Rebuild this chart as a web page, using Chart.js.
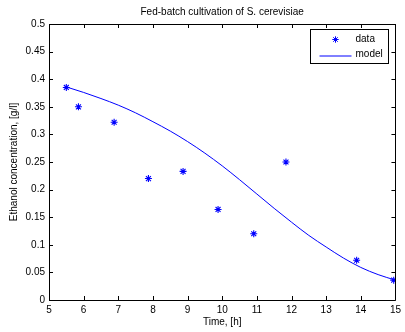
<!DOCTYPE html>
<html><head><meta charset="utf-8">
<script src="https://cdn.jsdelivr.net/npm/chart.js@4.4.1/dist/chart.umd.min.js"></script>
<style>html,body{margin:0;padding:0;background:#fff}canvas{display:block}</style>
</head><body>
<canvas id="c" width="405" height="332"></canvas>
<script>
const titleText = "Fed-batch cultivation of S. cerevisiae";
const xLabel = "Time, [h]";
const yLabel = "Ethanol concentration, [g/l]";

const dataTime = [5.5, 5.85, 6.88, 7.87, 8.87, 9.88, 10.91, 11.84, 13.88, 14.95];
const dataConc = [0.385, 0.350, 0.322, 0.220, 0.233, 0.164, 0.120, 0.250, 0.072, 0.036];

const modelTime = [5.5, 6.0, 6.5, 7.0, 7.5, 8.0, 8.5, 9.0, 9.5, 10.0, 10.5, 11.0, 11.5, 12.0, 12.5, 13.0, 13.5, 14.0, 14.5, 15.0];
const modelConc = [0.386, 0.376, 0.365, 0.353, 0.339, 0.323, 0.306, 0.287, 0.266, 0.243, 0.218, 0.192, 0.166, 0.141, 0.117, 0.096, 0.076, 0.059, 0.046, 0.036];

const xTicks = [5, 6, 7, 8, 9, 10, 11, 12, 13, 14, 15];
const yTicks = [0, 0.05, 0.1, 0.15, 0.2, 0.25, 0.3, 0.35, 0.4, 0.45, 0.5];

const BLUE = '#0000ff';
const FONT = 'Liberation Sans, Arial, Helvetica, sans-serif';

const boxPlugin = {
  id: 'matlabBox',
  afterDraw(chart) {
    const ctx = chart.ctx;
    const a = chart.chartArea;
    const xs = chart.scales.x, ys = chart.scales.y;
    ctx.save();
    ctx.strokeStyle = '#000';
    ctx.lineWidth = 1;
    ctx.beginPath();
    ctx.rect(Math.round(a.left) + 0.5, Math.round(a.top) + 0.5, Math.round(a.right - a.left), Math.round(a.bottom - a.top));
    const tl = 4;
    xTicks.forEach(v => {
      const p = Math.round(xs.getPixelForValue(v)) + 0.5;
      ctx.moveTo(p, a.bottom); ctx.lineTo(p, a.bottom - tl);
      ctx.moveTo(p, a.top); ctx.lineTo(p, a.top + tl);
    });
    yTicks.forEach(v => {
      const p = Math.round(ys.getPixelForValue(v)) + 0.5;
      ctx.moveTo(a.left, p); ctx.lineTo(a.left + tl, p);
      ctx.moveTo(a.right, p); ctx.lineTo(a.right - tl, p);
    });
    ctx.stroke();

    // title
    ctx.fillStyle = '#000';
    ctx.font = '10px ' + FONT;
    ctx.textAlign = 'center';
    ctx.textBaseline = 'middle';
    ctx.fillText(titleText, (a.left + a.right) / 2, 12);

    // legend
    const bw = 78, bh = 34;
    const bx = Math.round(a.right - 7 - bw) + 0.5, by = Math.round(a.top + 5) + 0.5;
    ctx.fillStyle = '#fff';
    ctx.fillRect(bx, by, bw, bh);
    ctx.strokeStyle = '#000';
    ctx.lineWidth = 1;
    ctx.strokeRect(bx, by, bw, bh);
    const ds = chart.data.datasets;
    ctx.textAlign = 'left';
    ctx.font = '10px ' + FONT;
    // data entry
    ctx.strokeStyle = BLUE;
    ctx.fillStyle = BLUE;
    ctx.lineWidth = 1;
    Chart.helpers.drawPoint(ctx, {pointStyle: 'star', radius: 3.2, borderWidth: 1}, bx + 25, by + 10);
    ctx.fillStyle = '#000';
    ctx.fillText(ds[0].label, bx + 45, by + 10);
    // model entry
    ctx.beginPath();
    ctx.strokeStyle = BLUE;
    ctx.lineWidth = 1;
    ctx.moveTo(bx + 9, by + 26.5); ctx.lineTo(bx + 41, by + 26.5);
    ctx.stroke();
    ctx.fillStyle = '#000';
    ctx.fillText(ds[1].label, bx + 45, by + 25);
    ctx.restore();
  }
};

new Chart(document.getElementById('c'), {
  type: 'scatter',
  data: {
    datasets: [
      {
        label: 'data',
        data: dataTime.map((t, i) => ({x: t, y: dataConc[i]})),
        showLine: false,
        pointStyle: 'star',
        pointRadius: 3.5,
        pointBorderWidth: 1.1,
        borderColor: BLUE,
        backgroundColor: BLUE
      },
      {
        label: 'model',
        data: modelTime.map((t, i) => ({x: t, y: modelConc[i]})),
        showLine: true,
        pointRadius: 0,
        borderWidth: 1,
        borderColor: BLUE,
        backgroundColor: BLUE,
        cubicInterpolationMode: 'monotone'
      }
    ]
  },
  options: {
    responsive: false,
    animation: false,
    devicePixelRatio: 1,
    layout: {padding: {top: 24, right: 5, left: 0, bottom: 0}},
    plugins: {legend: {display: false}, title: {display: false}, tooltip: {enabled: false}},
    scales: {
      x: {
        type: 'linear', min: 5, max: 15,
        afterBuildTicks: s => { s.ticks = xTicks.map(v => ({value: v})); },
        afterFit: s => { s.height = 32; },
        grid: {display: false, drawTicks: false},
        border: {display: false},
        ticks: {autoSkip: false, maxRotation: 0, padding: 4, color: '#000', font: {family: FONT, size: 10}},
        title: {display: true, text: xLabel, color: '#000', font: {family: FONT, size: 10}, padding: {top: 0, bottom: 4}}
      },
      y: {
        type: 'linear', min: 0, max: 0.5,
        afterBuildTicks: s => { s.ticks = yTicks.map(v => ({value: v})); },
        afterFit: s => { s.width = 49; },
        grid: {display: false, drawTicks: false},
        border: {display: false},
        ticks: {autoSkip: false, padding: 4, color: '#000', font: {family: FONT, size: 10},
          callback: v => String(Number(v.toFixed(2)))},
        title: {display: true, text: yLabel, color: '#000', font: {family: FONT, size: 10}, padding: {top: 8, bottom: 0}}
      }
    }
  },
  plugins: [boxPlugin]
});
</script>
</body></html>
